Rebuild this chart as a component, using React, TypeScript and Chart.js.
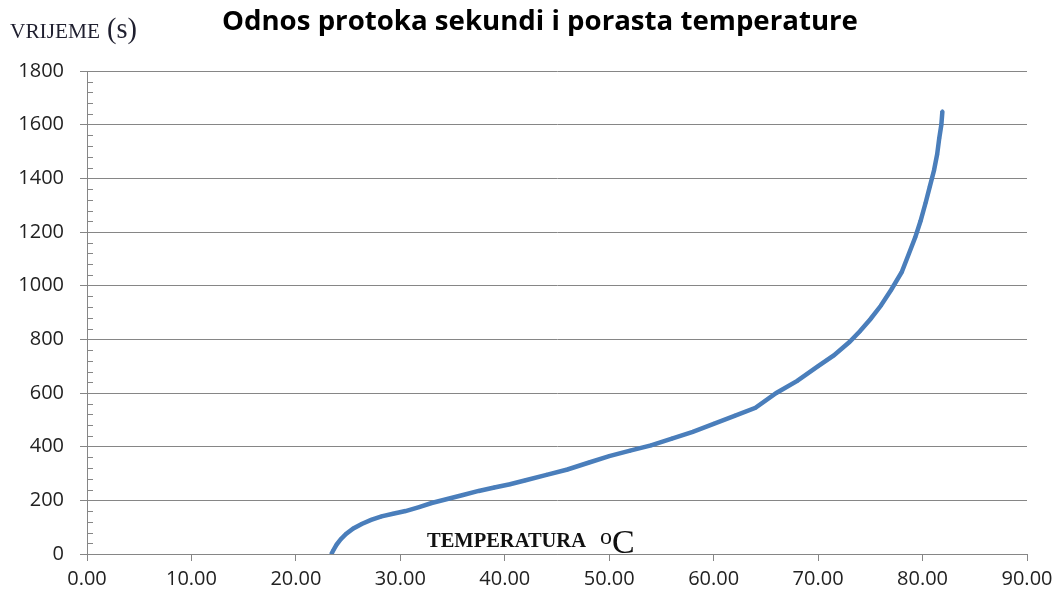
import React, { useEffect, useRef } from "react";
import { Chart, registerables } from "chart.js";

Chart.register(...registerables);

const titleText = "Odnos protoka sekundi i porasta temperature";
const yLabelMain = "VRIJEME";
const yLabelUnit = "(s)";
const xLabelMain = "TEMPERATURA";
const xLabelDeg = "o";
const xLabelUnit = "C";

const temperature = [
  23.4, 23.6, 23.9, 24.3, 24.8, 25.5, 26.3, 27.2, 28.2, 29.3, 30.5, 31.8, 33.0, 34.5, 36.0, 37.5,
  39.0, 40.5, 42.0, 44.0, 46.0, 48.0, 50.0, 52.0, 54.0, 56.0, 58.0, 60.0, 62.0, 64.0, 66.0, 68.0,
  70.0, 71.5, 73.0, 74.0, 75.0, 76.0, 77.0, 78.0, 78.7, 79.3, 79.8, 80.3, 80.7, 81.1, 81.4, 81.6,
  81.8, 81.9,
];
const seconds = [
  0, 15, 35, 55, 75, 95, 112, 127, 140, 150, 160, 175, 190, 205, 220, 235,
  248, 260, 275, 295, 315, 340, 365, 385, 405, 430, 455, 485, 515, 545, 600, 645,
  700, 740, 790, 830, 875, 925, 985, 1050, 1120, 1180, 1240, 1310, 1370, 1430, 1490, 1550,
  1600, 1650,
];

const xTicks = [0, 10, 20, 30, 40, 50, 60, 70, 80, 90];
const yTicks = [0, 200, 400, 600, 800, 1000, 1200, 1400, 1600, 1800];

const GRID = "#868686";
const LINE = "#4a7ebb";
const TICK_FONT = "'Open Sans', 'Liberation Sans', sans-serif";
const SERIF = "'Liberation Serif', 'DejaVu Serif', serif";

function fitFont(ctx: CanvasRenderingContext2D, text: string, style: string, family: string, target: number) {
  ctx.font = `${style} 20px ${family}`;
  const w = ctx.measureText(text).width || 1;
  const size = (20 * target) / w;
  ctx.font = `${style} ${size.toFixed(2)}px ${family}`;
}

export default function App() {
  const ref = useRef<HTMLCanvasElement | null>(null);

  useEffect(() => {
    if (!ref.current) return;
    const points = temperature.map((t, i) => ({ x: t, y: seconds[i] }));

    const textPlugin = {
      id: "texts",
      afterDraw(chart: any) {
        const ctx = chart.ctx as CanvasRenderingContext2D;
        const ys = chart.scales.y;
        const area = chart.chartArea;
        ctx.save();
        // minor ticks on y-axis (inside)
        ctx.strokeStyle = GRID;
        ctx.lineWidth = 1;
        for (let i = 0; i < yTicks.length - 1; i++) {
          const step = (yTicks[i + 1] - yTicks[i]) / 5;
          for (let k = 1; k < 5; k++) {
            const py = Math.round(ys.getPixelForValue(yTicks[i] + k * step)) + 0.5;
            ctx.beginPath();
            ctx.moveTo(area.left, py);
            ctx.lineTo(area.left + 6, py);
            ctx.stroke();
          }
        }
        ctx.textBaseline = "alphabetic";
        // title
        ctx.fillStyle = "#000";
        fitFont(ctx, titleText, "bold", "'Open Sans', 'Liberation Sans', sans-serif", 636);
        ctx.textAlign = "left";
        ctx.fillText(titleText, 222, 30);
        // y label
        ctx.fillStyle = "#1f1f2f";
        fitFont(ctx, yLabelMain, "normal", SERIF, 90);
        ctx.fillText(yLabelMain, 10, 38);
        fitFont(ctx, yLabelUnit, "normal", SERIF, 30);
        ctx.fillText(yLabelUnit, 107, 38);
        // x label
        ctx.fillStyle = "#111";
        fitFont(ctx, xLabelMain, "bold", SERIF, 159);
        ctx.fillText(xLabelMain, 427, 547);
        ctx.font = `24px ${SERIF}`;
        ctx.fillText(xLabelDeg, 600, 544);
        ctx.font = `34px ${SERIF}`;
        ctx.fillText(xLabelUnit, 612, 553);
        ctx.restore();
      },
    };

    const chart = new Chart(ref.current, {
      type: "scatter",
      data: {
        datasets: [
          {
            data: points,
            showLine: true,
            borderColor: LINE,
            backgroundColor: LINE,
            borderWidth: 4.5,
            pointRadius: 1.5,
            pointBorderWidth: 1,
            tension: 0,
          },
        ],
      },
      options: {
        animation: false,
        responsive: false,
        maintainAspectRatio: false,
        layout: { padding: { top: 71, right: 32, bottom: 0, left: 0 } },
        plugins: {
          legend: { display: false },
          title: { display: false },
          tooltip: { enabled: false },
        },
        scales: {
          x: {
            type: "linear",
            min: xTicks[0],
            max: xTicks[xTicks.length - 1],
            afterFit: (s: any) => {
              s.height = 44;
            },
            afterBuildTicks: (s: any) => {
              s.ticks = xTicks.map((v) => ({ value: v }));
            },
            ticks: {
              callback: (v: any) => Number(v).toFixed(2),
              color: "#222",
              font: { family: TICK_FONT, size: 20 },
              padding: 6,
              maxRotation: 0,
              autoSkip: false,
            },
            grid: {
              drawOnChartArea: false,
              drawTicks: true,
              tickLength: 7,
              color: GRID,
              lineWidth: 1,
            },
            border: { display: true, color: GRID, width: 1 },
          },
          y: {
            type: "linear",
            min: yTicks[0],
            max: yTicks[yTicks.length - 1],
            afterFit: (s: any) => {
              s.width = 87;
            },
            afterBuildTicks: (s: any) => {
              s.ticks = yTicks.map((v) => ({ value: v }));
            },
            ticks: {
              callback: (v: any) => String(v),
              color: "#222",
              font: { family: TICK_FONT, size: 20 },
              padding: 16,
              autoSkip: false,
            },
            grid: {
              drawOnChartArea: true,
              drawTicks: true,
              tickLength: 7,
              color: GRID,
              lineWidth: 1,
            },
            border: { display: true, color: GRID, width: 1 },
          },
        },
      },
      plugins: [textPlugin],
    });
    return () => chart.destroy();
  }, []);

  return (
    <div style={{ position: "fixed", left: 0, top: 0, width: 1059, height: 598, background: "#fff" }}>
      <canvas ref={ref} width={1059} height={598} style={{ display: "block" }} />
    </div>
  );
}
